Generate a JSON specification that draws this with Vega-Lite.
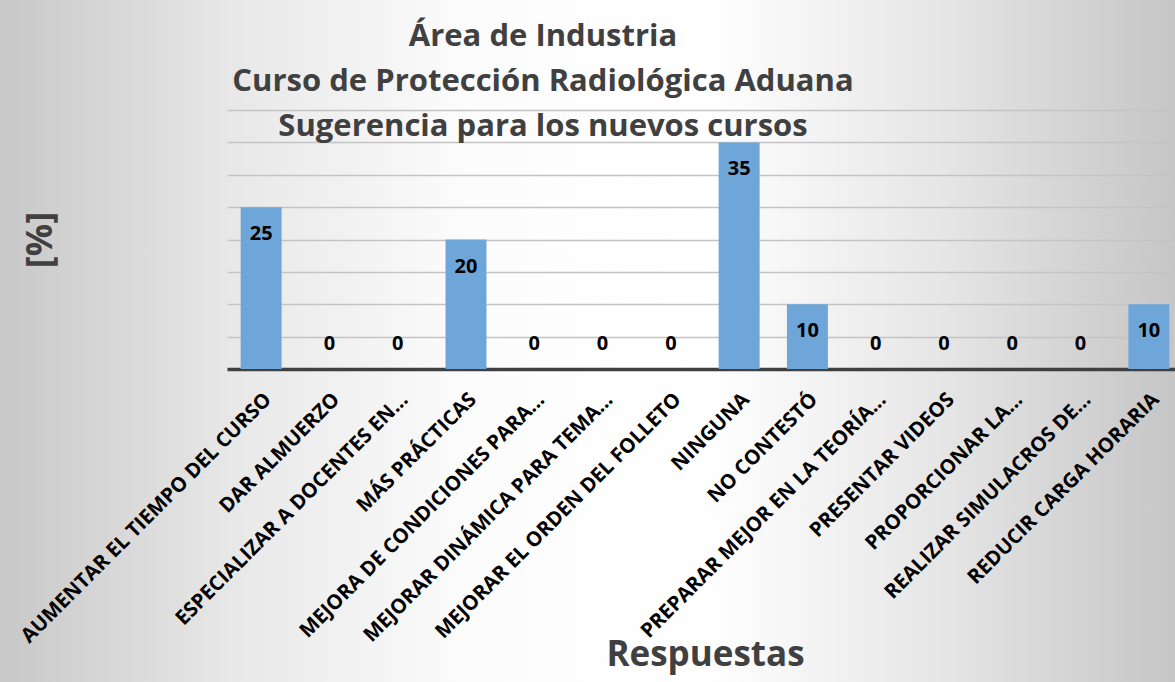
{
  "$schema": "https://vega.github.io/schema/vega-lite/v6.json",
  "width": 956,
  "height": 259,
  "autosize": {"type": "none"},
  "padding": {"left": 227, "top": 110, "right": 0, "bottom": 313},
  "background": "#e6e6e6",
  "config": {
    "font": "Open Sans",
    "view": {
      "fill": {"gradient": "linear", "x1": -0.2374, "y1": 0, "x2": 0.9916, "y2": 0,
        "stops": [
          {"offset": 0, "color": "#c8c8c8"},
          {"offset": 0.2, "color": "#e8e8e8"},
          {"offset": 0.4, "color": "#fcfcfc"},
          {"offset": 0.6, "color": "#ffffff"},
          {"offset": 0.8, "color": "#e6e6e6"},
          {"offset": 1, "color": "#c6c6c6"}
        ]},
      "stroke": {"gradient": "linear", "x1": -0.2374, "y1": 0, "x2": 0.9916, "y2": 0,
        "stops": [
          {"offset": 0, "color": "#c8c8c8"},
          {"offset": 0.2, "color": "#e8e8e8"},
          {"offset": 0.4, "color": "#fcfcfc"},
          {"offset": 0.6, "color": "#ffffff"},
          {"offset": 0.8, "color": "#e6e6e6"},
          {"offset": 1, "color": "#c6c6c6"}
        ]},
      "strokeWidth": 660,
      "strokeJoin": "miter"
    }
  },
  "title": {
    "text": ["Área de Industria", "Curso de Protección Radiológica Aduana", "Sugerencia para los nuevos cursos"],
    "fontSize": 31,
    "fontWeight": "bold",
    "color": "#404040",
    "lineHeight": 45,
    "anchor": "middle",
    "frame": "group",
    "dx": -162,
    "offset": -33
  },
  "data": {
    "values": [
      {"respuesta": "AUMENTAR EL TIEMPO DEL CURSO", "valor": 25},
      {"respuesta": "DAR ALMUERZO", "valor": 0},
      {"respuesta": "ESPECIALIZAR A DOCENTES EN...", "valor": 0},
      {"respuesta": "MÁS PRÁCTICAS", "valor": 20},
      {"respuesta": "MEJORA DE CONDICIONES PARA...", "valor": 0},
      {"respuesta": "MEJORAR DINÁMICA PARA TEMA...", "valor": 0},
      {"respuesta": "MEJORAR EL ORDEN DEL FOLLETO", "valor": 0},
      {"respuesta": "NINGUNA", "valor": 35},
      {"respuesta": "NO CONTESTÓ", "valor": 10},
      {"respuesta": "PREPARAR MEJOR EN LA TEORÍA...", "valor": 0},
      {"respuesta": "PRESENTAR VIDEOS", "valor": 0},
      {"respuesta": "PROPORCIONAR LA...", "valor": 0},
      {"respuesta": "REALIZAR SIMULACROS DE...", "valor": 0},
      {"respuesta": "REDUCIR CARGA HORARIA", "valor": 10}
    ]
  },
  "encoding": {
    "x": {
      "field": "respuesta",
      "type": "nominal",
      "sort": null,
      "scale": {"paddingInner": 0.4, "paddingOuter": 0.2},
      "axis": {
        "title": "Respuestas",
        "titleFontSize": 35,
        "titleFontWeight": "bold",
        "titleColor": "#404040",
        "titlePadding": 68,
        "labelAngle": -45,
        "labelFontSize": 20.3,
        "labelFontWeight": "bold",
        "labelColor": "#000000",
        "labelPadding": 20,
        "labelLimit": 600,
        "ticks": false,
        "domainColor": "#404040",
        "domainWidth": 3.5,
        "grid": false
      }
    },
    "y": {
      "field": "valor",
      "type": "quantitative",
      "scale": {"domain": [0, 40], "nice": false},
      "axis": {
        "title": "[%]",
        "titleFontSize": 36,
        "titleFontWeight": "bold",
        "titleColor": "#404040",
        "titlePadding": 168,
        "labels": false,
        "ticks": false,
        "domain": false,
        "values": [0, 5, 10, 15, 20, 25, 30, 35, 40],
        "gridColor": "#c4c4c4",
        "gridWidth": 1.5
      }
    }
  },
  "layer": [
    {
      "mark": {"type": "bar", "color": "#6fa6da"}
    },
    {
      "transform": [{"filter": "datum.valor > 0"}],
      "mark": {"type": "text", "baseline": "middle", "dy": 27, "fontSize": 20, "fontWeight": "bold", "color": "#000000"},
      "encoding": {"text": {"field": "valor", "type": "quantitative"}}
    },
    {
      "transform": [{"filter": "datum.valor == 0"}],
      "mark": {"type": "text", "baseline": "middle", "dy": -25, "fontSize": 20, "fontWeight": "bold", "color": "#000000"},
      "encoding": {"text": {"field": "valor", "type": "quantitative"}}
    }
  ]
}
